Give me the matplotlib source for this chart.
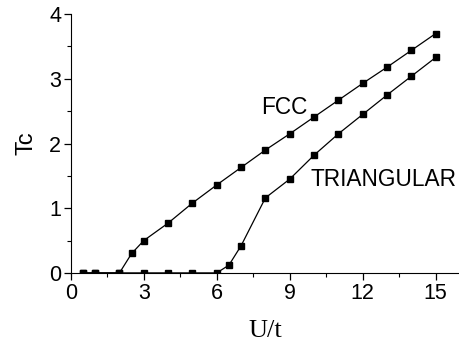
import numpy as np
import matplotlib.pyplot as plt
from matplotlib.ticker import MultipleLocator

# data
u_fcc = [0.5, 1, 2, 2.5, 3, 4, 5, 6, 7, 8, 9, 10, 11, 12, 13, 14, 15]
tc_fcc = [0, 0, 0, 0.30, 0.50, 0.77, 1.08, 1.36, 1.63, 1.90, 2.15, 2.41, 2.67, 2.93, 3.18, 3.44, 3.70]

u_tri = [0.5, 1, 2, 3, 4, 5, 6, 6.5, 7, 8, 9, 10, 11, 12, 13, 14, 15]
tc_tri = [0, 0, 0, 0, 0, 0, 0, 0.12, 0.42, 1.16, 1.45, 1.82, 2.15, 2.45, 2.75, 3.04, 3.33]

fig = plt.figure(figsize=(4.6, 3.45), dpi=100)
ax = fig.add_axes([0.154, 0.209, 0.846, 0.75])

ax.plot(u_fcc, tc_fcc, 'k-s', lw=0.9, ms=4.5)
ax.plot(u_tri, tc_tri, 'k-s', lw=0.9, ms=4.5)

ax.text(7.83, 2.56, 'FCC', family='Liberation Sans', fontsize=16.3, va='center')
ax.text(9.85, 1.44, 'TRIANGULAR', family='Liberation Sans', fontsize=16.3, va='center')

ax.set_xlim(0, 16)
ax.set_ylim(0, 4)
ax.xaxis.set_major_locator(MultipleLocator(3))
ax.xaxis.set_minor_locator(MultipleLocator(1.5))
ax.yaxis.set_major_locator(MultipleLocator(1))
ax.yaxis.set_minor_locator(MultipleLocator(0.5))
ax.spines['top'].set_visible(False)
ax.spines['right'].set_visible(False)
ax.tick_params(which='major', length=5, width=0.9, labelsize=15.5, pad=2)
ax.tick_params(which='minor', length=3, width=0.8)
for lab in ax.get_xticklabels() + ax.get_yticklabels():
    lab.set_family('Liberation Sans')

ax.set_ylabel('Tc', family='Liberation Sans', fontsize=17, labelpad=8)
ax.set_xlabel('U/t', family='Liberation Serif', fontsize=19, labelpad=12)

fig.savefig('out.png', dpi=100)
